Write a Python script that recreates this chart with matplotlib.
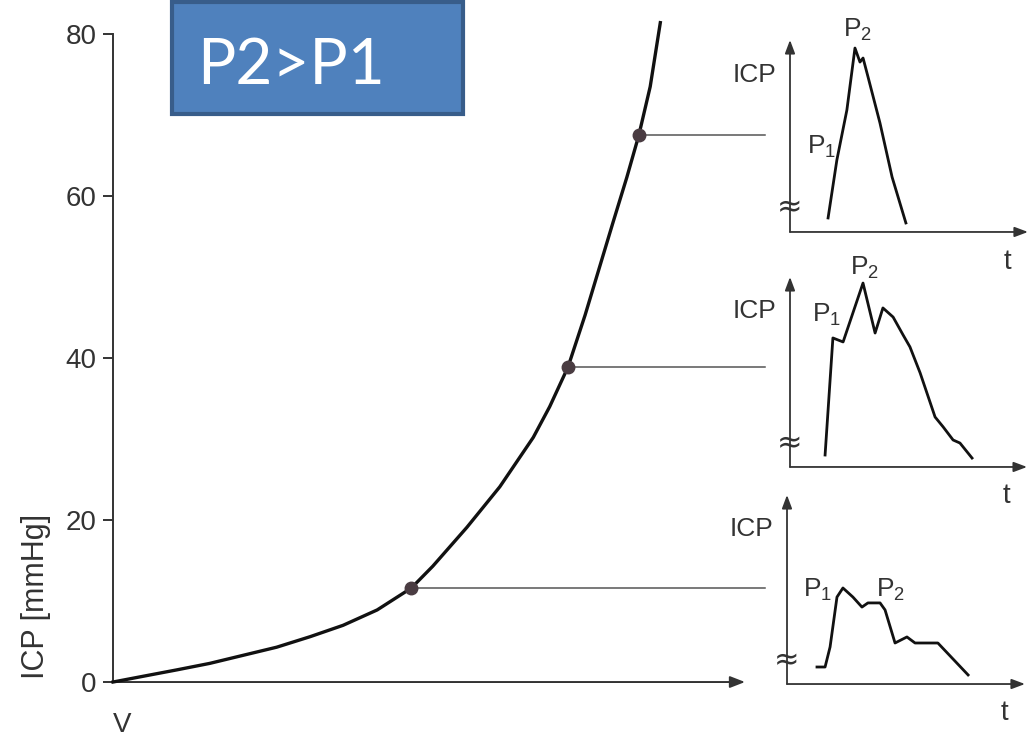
import matplotlib
matplotlib.use("Agg")
import matplotlib.pyplot as plt
from matplotlib.patches import FancyBboxPatch

plt.rcParams['mathtext.default'] = 'regular'
SANS = ['Liberation Sans', 'DejaVu Sans']

# pressure-volume curve
volume = [0, 4.7, 10.1, 15.3, 20.6, 25.9, 31.2, 36.4, 41.8, 47.2, 50.6,
          56.0, 61.2, 66.5, 69.1, 72.0, 74.7, 79.1, 81.3, 83.2, 85.0, 86.6]
icp = [0, 0.7, 1.5, 2.3, 3.3, 4.3, 5.6, 7.0, 8.9, 11.6, 14.3,
       19.1, 24.1, 30.2, 34.0, 38.9, 45.3, 56.7, 62.3, 67.5, 73.5, 81.4]
yticks = [0, 20, 40, 60, 80]

# marked points on the curve (volume, icp)
mark_v = [47.2, 72.0, 83.2]
mark_p = [11.6, 38.9, 67.5]
connector_end = 103.2

# waveforms, top to bottom (t and ICP in arbitrary 0-100 units)
wave_t = [
    [16.0, 19.7, 23.9, 27.3, 29.4, 30.7, 32.8, 37.8, 42.9, 48.7],
    [14.8, 18.1, 22.4, 30.8, 35.9, 39.2, 43.5, 47.7, 50.6, 54.9, 61.2,
     64.6, 68.8, 71.7, 76.8],
    [12.6, 16.0, 18.1, 21.0, 23.5, 27.7, 31.5, 34.0, 39.1, 41.2, 45.4,
     50.4, 53.8, 63.4, 76.1],
]
wave_p = [
    [7.3, 37.5, 63.5, 95.8, 88.5, 90.6, 80.7, 56.8, 28.6, 4.7],
    [6.3, 67.9, 65.8, 96.8, 70.5, 83.7, 78.9, 69.5, 63.2, 49.5, 26.3,
     21.1, 14.2, 12.6, 4.7],
    [9.0, 9.0, 19.6, 46.0, 50.8, 46.0, 40.7, 42.9, 42.9, 39.2, 21.7,
     24.9, 21.7, 21.7, 4.8],
]
p1_pos = [(13.4, 44.3), (15.6, 80.0), (13.0, 49.7)]
p2_pos = [(28.2, 105.0), (31.6, 104.7), (43.3, 49.7)]
inset_rects = [
    [0.7655, 0.6861, 0.2306, 0.2598],
    [0.7655, 0.3681, 0.2297, 0.2571],
    [0.7626, 0.0744, 0.2306, 0.2558],
]

fig = plt.figure(figsize=(10.32, 7.39), dpi=100)

# main axes
ax = fig.add_axes([0.1095, 0.0771, 0.6124, 0.8769])
ax.set_xlim(0, 100)
ax.set_ylim(0, 80)
for s in ['top', 'right', 'bottom']:
    ax.spines[s].set_visible(False)
ax.spines['left'].set_linewidth(1.4)
ax.spines['left'].set_color('#333333')
ax.set_xticks([])
ax.set_yticks(yticks)
ax.tick_params(axis='y', length=7, width=1.4, color='#333333', pad=5,
               labelsize=20, labelcolor='#333333')
for lab in ax.get_yticklabels():
    lab.set_family(SANS)
ax.annotate('', xy=(1, 0), xytext=(0, 0), xycoords='axes fraction',
            arrowprops=dict(arrowstyle='-|>,head_length=0.9,head_width=0.35',
                            color='#333333', lw=1.4, shrinkA=0, shrinkB=0))

ax.plot(volume, icp, color='#111111', lw=2.4, clip_on=False, zorder=3,
        solid_joinstyle='round')
for v, p in zip(mark_v, mark_p):
    ax.plot([v, connector_end], [p, p], color='#555555', lw=1.1,
            clip_on=False, zorder=2)
ax.plot(mark_v, mark_p, 'o', color='#4a3c42', ms=9, clip_on=False, zorder=4)

ax.text(-12.2, 10.6, 'ICP [mmHg]', rotation=90, ha='center', va='center',
        fontsize=22, family=SANS, color='#333333')
ax.text(1.4, -5.3, 'V', ha='center', va='center', fontsize=20,
        family=SANS, color='#333333')

# blue title box
box = FancyBboxPatch((0.1667, 0.8457), 0.282, 0.1516, boxstyle='square,pad=0',
                     transform=fig.transFigure, facecolor='#4f81bd',
                     edgecolor='#385d8a', lw=3)
fig.patches.append(box)
fig.text(0.191, 0.911, 'P2>P1', ha='left', va='center', fontsize=46,
         family=['Lato', 'DejaVu Sans'], color='white')

# waveform insets
for i, rect in enumerate(inset_rects):
    a = fig.add_axes(rect)
    a.set_xlim(0, 100)
    a.set_ylim(0, 100)
    a.axis('off')
    arrow = dict(arrowstyle='-|>,head_length=0.8,head_width=0.3',
                 color='#333333', lw=1.3, shrinkA=0, shrinkB=0)
    a.annotate('', xy=(1, 0), xytext=(0, 0), xycoords='axes fraction',
               arrowprops=arrow)
    a.annotate('', xy=(0, 1), xytext=(0, 0), xycoords='axes fraction',
               arrowprops=arrow)
    a.plot(wave_t[i], wave_p[i], color='#111111', lw=2.0, clip_on=False,
           solid_joinstyle='round')
    a.text(-14.8, 82, 'ICP', ha='center', va='center', fontsize=19,
           family=SANS, color='#333333', clip_on=False)
    a.text(p1_pos[i][0], p1_pos[i][1], 'P$_1$', ha='center', va='center',
           fontsize=19, family=SANS, color='#333333', clip_on=False)
    a.text(p2_pos[i][0], p2_pos[i][1], 'P$_2$', ha='center', va='center',
           fontsize=19, family=SANS, color='#333333', clip_on=False)
    a.text(91.5, -15.5, 't', ha='center', va='center', fontsize=20,
           family=SANS, color='#333333', clip_on=False)
    a.text(0, 12.5, '≈', ha='center', va='center', fontsize=22,
           family='DejaVu Sans', color='#333333', clip_on=False)

fig.savefig('out.png', dpi=100)
